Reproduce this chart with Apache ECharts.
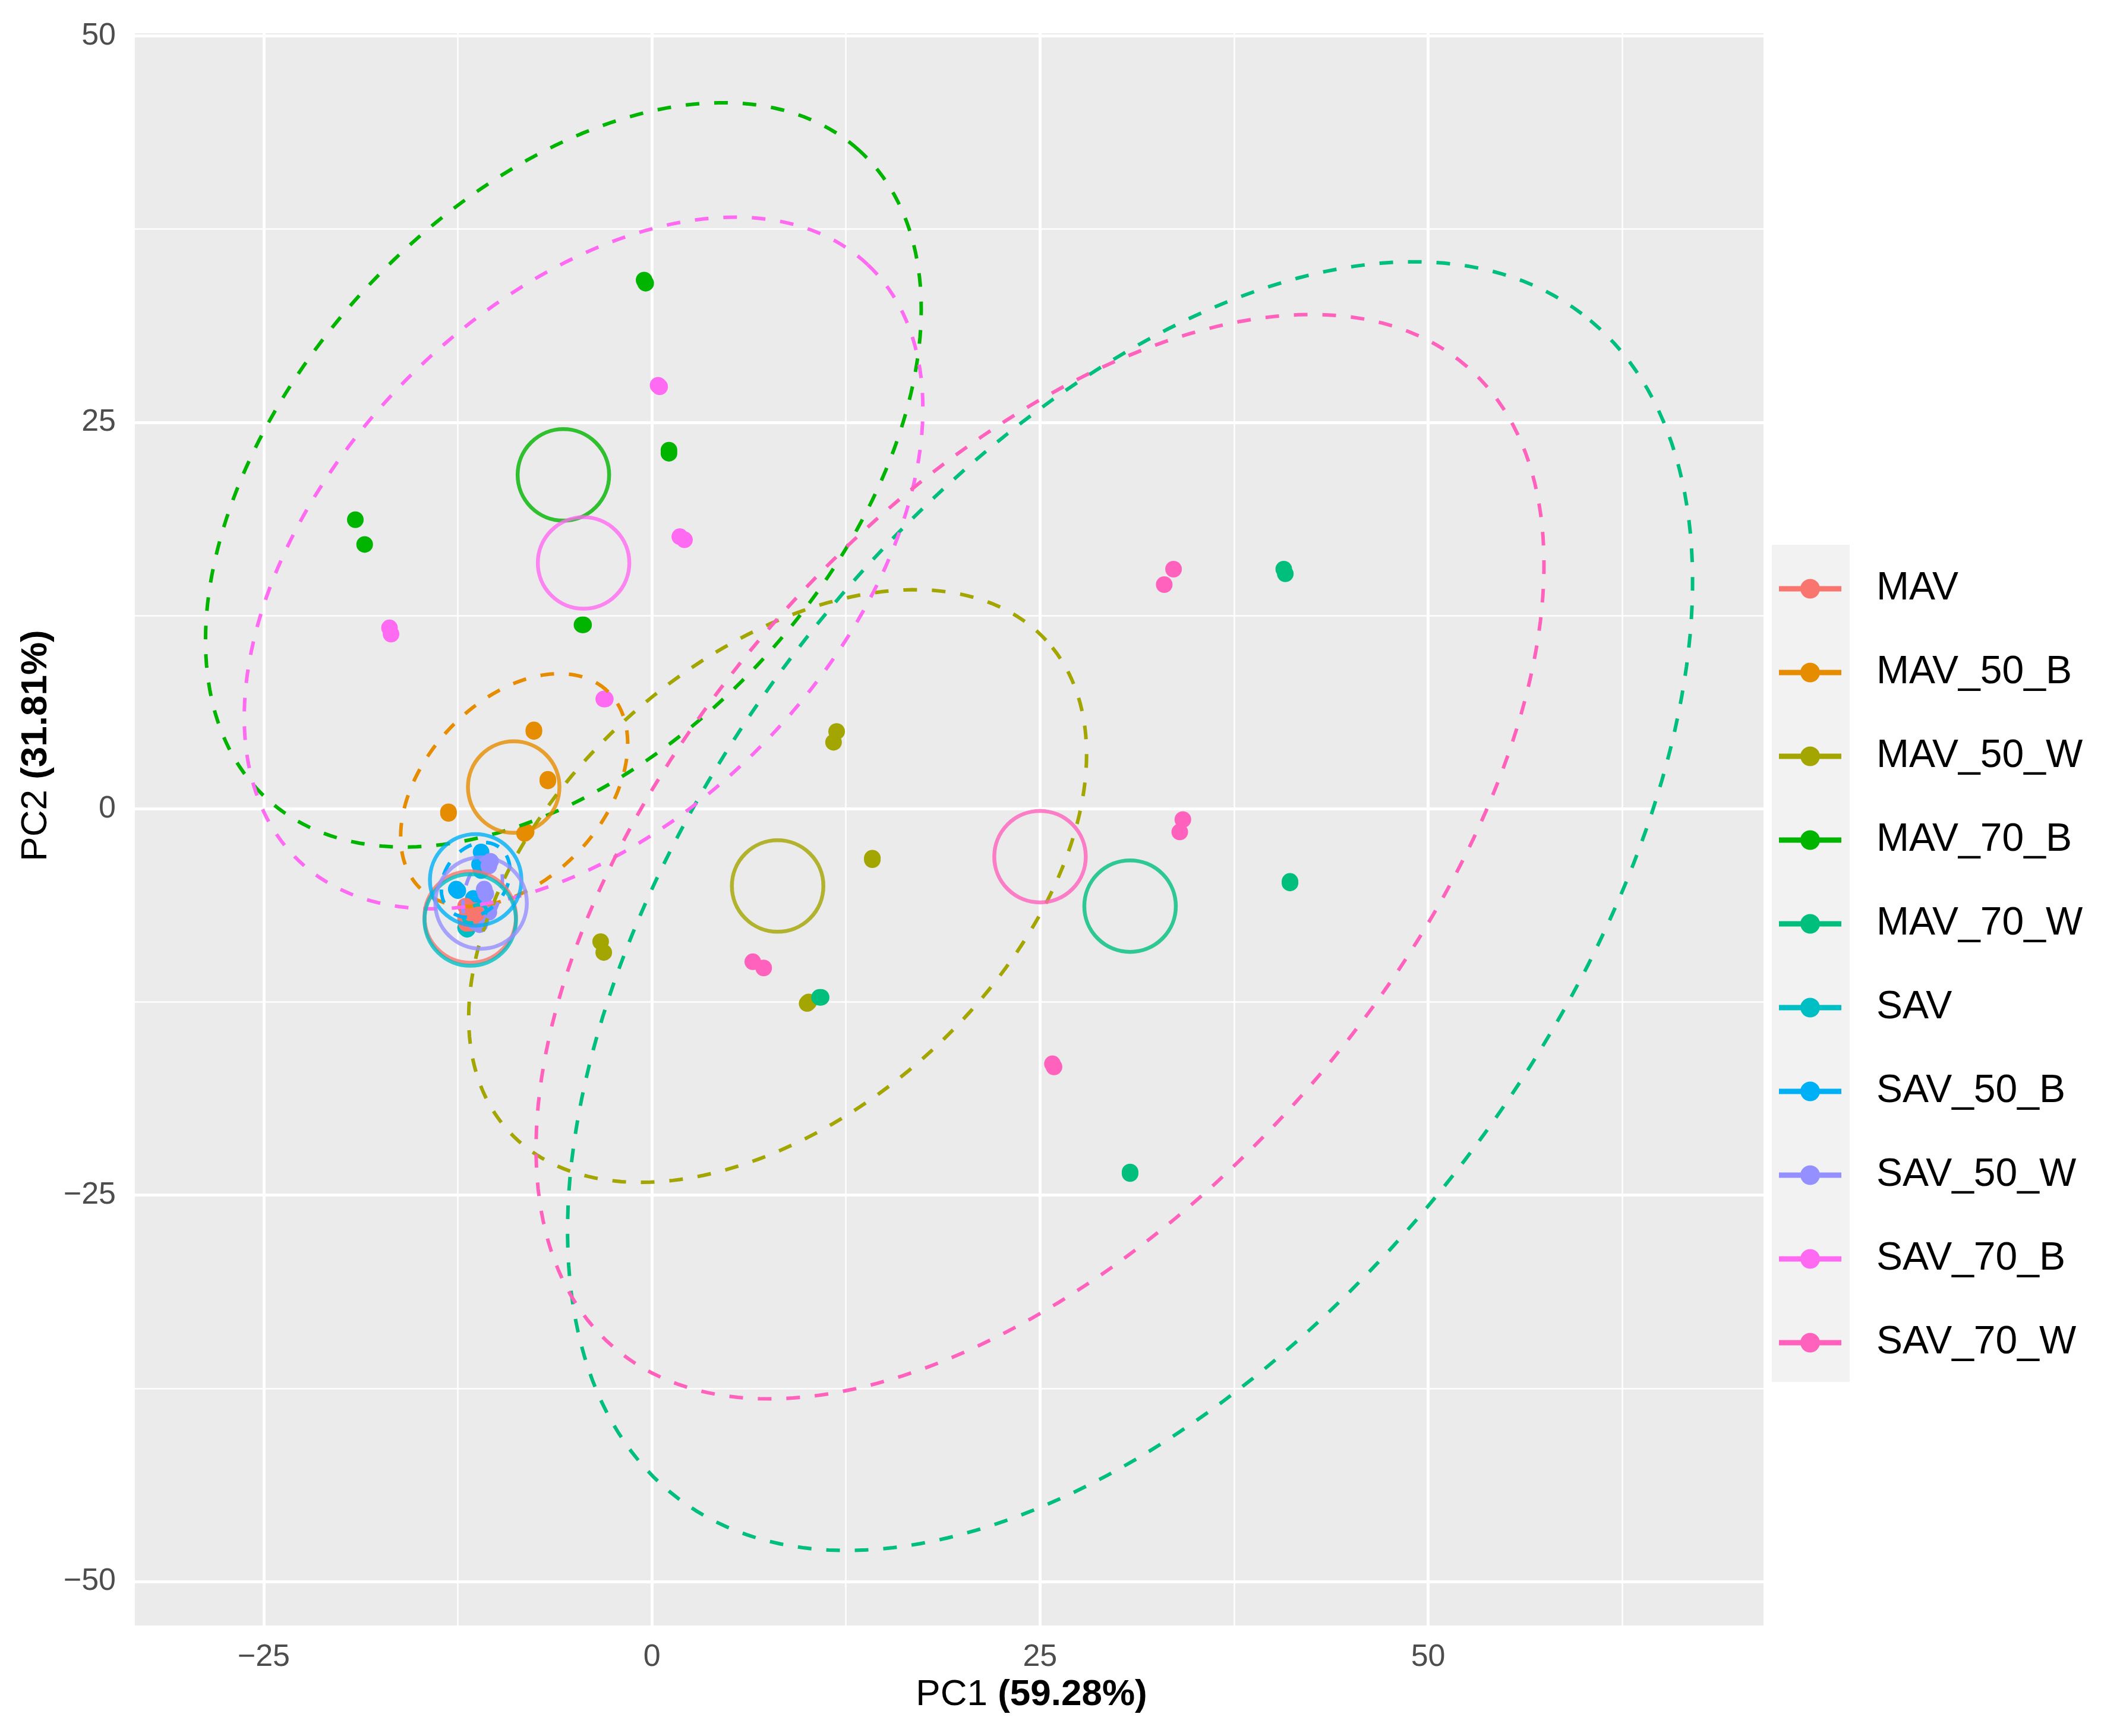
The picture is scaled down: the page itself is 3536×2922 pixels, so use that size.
<!DOCTYPE html>
<html>
<head>
<meta charset="utf-8">
<script src="https://cdn.jsdelivr.net/npm/echarts@6/dist/echarts.min.js"></script>
<style>
  html, body { margin: 0; padding: 0; background: #fff; }
  #chartDom { width: 3536px; height: 2922px; }
</style>
</head>
<body>
<div id="chartDom"></div>
<script>
// groups and colours
var groups = ['MAV', 'MAV_50_B', 'MAV_50_W', 'MAV_70_B', 'MAV_70_W', 'SAV', 'SAV_50_B', 'SAV_50_W', 'SAV_70_B', 'SAV_70_W'];
var colors = ['#F8766D', '#E68C00', '#A3A500', '#00B400', '#00BF7D', '#00BFC4', '#00B0F6', '#9590FF', '#FF6AF2', '#FF62BC'];

// sample scores [PC1, PC2]
var ptsMAV = [[-12.0, -6.3], [-11.9, -6.5], [-11.4, -6.6], [-11.3, -6.8], [-11.8, -7.3], [-11.7, -7.4], [-12.0, -7.1], [-11.9, -7.0]];
var ptsMAV50B = [[-7.6, 5.1], [-7.6, 5.0], [-6.7, 1.8], [-6.7, 1.9], [-13.1, -0.3], [-13.1, -0.2], [-8.1, -1.5], [-8.2, -1.6]];
var ptsMAV50W = [[11.9, 5.0], [11.7, 4.3], [14.2, -3.2], [14.2, -3.3], [-3.3, -8.6], [-3.1, -9.3], [10.0, -12.6], [10.1, -12.5]];
var ptsMAV70B = [[-0.5, 34.2], [-0.4, 34.0], [1.1, 23.2], [1.1, 23.0], [-19.1, 18.7], [-18.5, 17.1], [-4.5, 11.9], [-4.4, 11.9]];
var ptsMAV70W = [[40.7, 15.5], [40.8, 15.2], [41.1, -4.7], [41.1, -4.8], [10.9, -12.2], [10.8, -12.2], [30.8, -23.5], [30.8, -23.6]];
var ptsSAV = [[-12.0, -7.7], [-11.9, -7.8], [-11.5, -7.0], [-11.4, -7.1], [-11.7, -6.8], [-11.6, -6.9], [-11.8, -7.3], [-11.7, -7.4]];
var ptsSAV50B = [[-11.0, -2.8], [-10.9, -3.4], [-12.6, -5.2], [-12.5, -5.3], [-11.1, -3.6], [-11.0, -4.0], [-11.5, -5.8], [-11.4, -6.1]];
var ptsSAV50W = [[-10.4, -3.4], [-10.5, -3.7], [-10.8, -5.2], [-10.7, -5.5], [-10.6, -6.4], [-10.5, -6.7], [-11.0, -7.2], [-11.1, -7.5]];
var ptsSAV70B = [[0.4, 27.4], [0.5, 27.3], [1.8, 17.6], [2.1, 17.4], [-16.9, 11.7], [-16.8, 11.3], [-3.1, 7.1], [-3.0, 7.1]];
var ptsSAV70W = [[33.0, 14.5], [33.6, 15.5], [34.2, -0.7], [34.0, -1.5], [6.5, -9.9], [7.2, -10.3], [25.8, -16.5], [25.9, -16.7]];
var groupPoints = [ptsMAV, ptsMAV50B, ptsMAV50W, ptsMAV70B, ptsMAV70W, ptsSAV, ptsSAV50B, ptsSAV50W, ptsSAV70B, ptsSAV70W];

// group centroids (hollow circles)
var centroidX = [-11.7, -8.9, 8.1, -5.7, 30.8, -11.7, -11.35, -11.0, -4.4, 25.0];
var centroidY = [-7.0, 1.4, -5.0, 21.6, -6.3, -7.2, -4.6, -6.1, 15.9, -3.1];

// confidence ellipses: centre, semi axes, rotation (deg)
var ellipseCx = [-11.7, -8.87, 8.1, -5.7, 30.8, -11.4, -11.35, -10.9, -4.4, 25.0];
var ellipseCy = [-7.0, 1.21, -5.0, 21.6, -6.3, -6.8, -4.6, -5.4, 15.9, -3.1];
var ellipseA = [0.9, 8.78, 23.49, 28.35, 48.12, 0.8, 2.6, 2.4, 26.6, 41.97];
var ellipseB = [0.6, 5.75, 14.55, 17.53, 27.11, 0.5, 2.0, 1.15, 16.45, 22.86];
var ellipseAngle = [60, 47.1, 42.6, 47.8, 52.8, 30, 55, 75, 46.5, 49.1];

// axes
var xTicks = [-25, 0, 25, 50];
var yTicks = [-50, -25, 0, 25, 50];
var xMinor = [-12.5, 12.5, 37.5, 62.5];
var yMinor = [-37.5, -12.5, 12.5, 37.5];

var FONT = '"Liberation Sans", Arial, sans-serif';

var myChart = echarts.init(document.getElementById('chartDom'));

function minusFmt(v) {
    return v < 0 ? '\u2212' + Math.abs(v) : String(v);
}

function ellipseItem(params, api) {
    var cx = api.value(0), cy = api.value(1);
    var a = api.value(2), b = api.value(3);
    var ang = api.value(4) * Math.PI / 180;
    var pts = [];
    for (var i = 0; i <= 240; i++) {
        var t = i / 240 * 2 * Math.PI;
        var x = cx + a * Math.cos(ang) * Math.cos(t) - b * Math.sin(ang) * Math.sin(t);
        var y = cy + a * Math.sin(ang) * Math.cos(t) + b * Math.cos(ang) * Math.sin(t);
        pts.push(api.coord([x, y]));
    }
    return {
        type: 'polyline',
        shape: { points: pts },
        style: { stroke: api.visual('color'), lineWidth: 6, lineDash: [23, 25], fill: null }
    };
}

var series = [];

// panel grid lines
var gridLines = [];
xMinor.forEach(function (v) { gridLines.push({ xAxis: v, lineStyle: { width: 2.5 } }); });
yMinor.forEach(function (v) { gridLines.push({ yAxis: v, lineStyle: { width: 2.5 } }); });
xTicks.forEach(function (v) { gridLines.push({ xAxis: v, lineStyle: { width: 5 } }); });
yTicks.forEach(function (v) { gridLines.push({ yAxis: v, lineStyle: { width: 5 } }); });
series.push({
    name: 'grid',
    type: 'scatter',
    data: [],
    silent: true,
    z: 1,
    markLine: {
        z: 1,
        silent: true,
        symbol: 'none',
        label: { show: false },
        emphasis: { disabled: true },
        lineStyle: { color: '#FFFFFF', type: 'solid' },
        data: gridLines
    }
});

groups.forEach(function (g, i) {
    series.push({
        name: g,
        type: 'scatter',
        data: groupPoints[i],
        symbol: 'circle',
        symbolSize: 28,
        itemStyle: { color: colors[i], opacity: 1 },
        z: g === 'MAV' ? 2.5 : 2,
        silent: true
    });
});

groups.forEach(function (g, i) {
    series.push({
        name: g + ' ellipse',
        type: 'custom',
        renderItem: ellipseItem,
        encode: { x: 0, y: 1 },
        data: [[ellipseCx[i], ellipseCy[i], ellipseA[i], ellipseB[i], ellipseAngle[i]]],
        itemStyle: { color: colors[i] },
        z: 3,
        silent: true
    });
});

groups.forEach(function (g, i) {
    series.push({
        name: g + ' centroid',
        type: 'scatter',
        data: [[centroidX[i], centroidY[i]]],
        symbol: 'circle',
        symbolSize: 154,
        itemStyle: { color: 'rgba(0,0,0,0)', borderColor: colors[i], borderWidth: 6.5 },
        z: 4,
        silent: true
    });
});

var legendIcon = 'path://M0,12h105v9h-105z M52.5,0A16.5,16.5 0 1 1 52.49,0Z';

var option = {
    animation: false,
    backgroundColor: '#FFFFFF',
    textStyle: { fontFamily: FONT },
    grid: {
        left: 227, right: 568, top: 56, bottom: 186,
        show: true, backgroundColor: '#EBEBEB', borderWidth: 0
    },
    xAxis: {
        type: 'value',
        min: -33.3, max: 71.6,
        axisLine: { show: false },
        splitLine: { show: false },
        axisTick: { show: true, customValues: xTicks, length: 15, lineStyle: { color: '#333333', width: 4 } },
        axisLabel: { customValues: xTicks, formatter: minusFmt, fontSize: 52, color: '#4D4D4D', margin: 28, fontFamily: FONT }
    },
    yAxis: {
        type: 'value',
        min: -52.84, max: 50.17,
        axisLine: { show: false },
        splitLine: { show: false },
        axisTick: { show: true, customValues: yTicks, length: 15, lineStyle: { color: '#333333', width: 4 } },
        axisLabel: { customValues: yTicks, formatter: minusFmt, fontSize: 52, color: '#4D4D4D', margin: 32, fontFamily: FONT }
    },
    legend: {
        orient: 'vertical',
        left: 2994, top: 958,
        padding: 0,
        itemWidth: 105, itemHeight: 33,
        itemGap: 75,
        selectedMode: false,
        data: groups.map(function (g) { return { name: g, icon: legendIcon }; }),
        textStyle: { fontSize: 66, color: '#000000', fontFamily: FONT, padding: [0, 0, 0, 54] }
    },
    graphic: [
        {
            type: 'rect', z: 0, silent: true,
            shape: { x: 2982, y: 917, width: 131, height: 1409 },
            style: { fill: '#F2F2F2' }
        },
        {
            type: 'text', silent: true,
            x: 1736, y: 2853,
            style: {
                text: '{n|PC1 }{b|(59.28%)}',
                align: 'center', verticalAlign: 'middle',
                rich: {
                    n: { fontSize: 62, fontFamily: FONT, fill: '#000000' },
                    b: { fontSize: 62, fontFamily: FONT, fontWeight: 'bold', fill: '#000000' }
                }
            }
        },
        {
            type: 'text', silent: true,
            x: 61, y: 1255, rotation: Math.PI / 2,
            style: {
                text: '{n|PC2 }{b|(31.81%)}',
                align: 'center', verticalAlign: 'middle',
                rich: {
                    n: { fontSize: 62, fontFamily: FONT, fill: '#000000' },
                    b: { fontSize: 62, fontFamily: FONT, fontWeight: 'bold', fill: '#000000' }
                }
            }
        }
    ],
    series: series
};

myChart.setOption(option);
</script>
</body>
</html>
